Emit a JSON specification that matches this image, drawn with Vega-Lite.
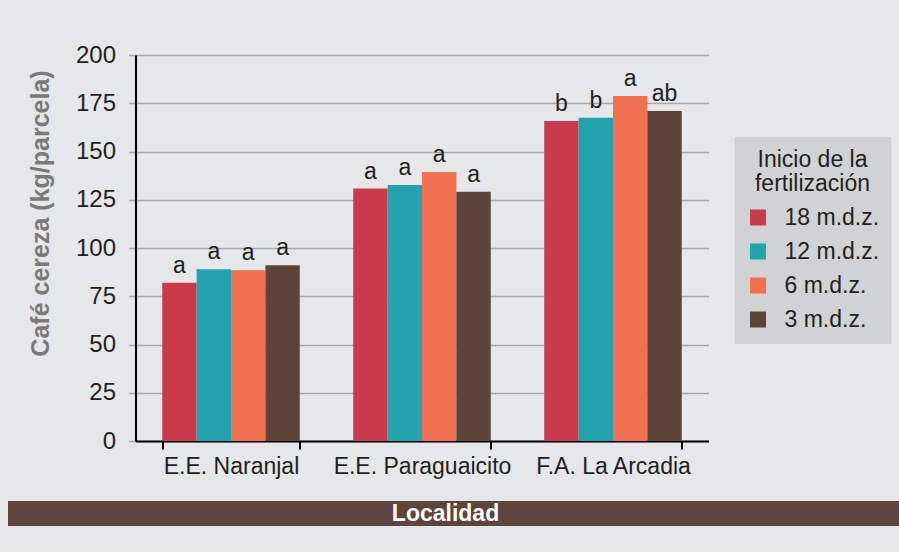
{
  "$schema": "https://vega.github.io/schema/vega-lite/v6.json",
  "background": "#e6e7e8",
  "padding": {"left": -5.5, "top": 43, "right": 0, "bottom": 26},
  "config": {"font": "Liberation Sans", "view": {"stroke": null}},
  "datasets": {
    "bars": [
      {"loc": "E.E. Naranjal", "trat": "18 m.d.z.", "val": 82, "sig": "a"},
      {"loc": "E.E. Naranjal", "trat": "12 m.d.z.", "val": 89, "sig": "a"},
      {"loc": "E.E. Naranjal", "trat": "6 m.d.z.", "val": 88.5, "sig": "a"},
      {"loc": "E.E. Naranjal", "trat": "3 m.d.z.", "val": 91, "sig": "a"},
      {"loc": "E.E. Paraguaicito", "trat": "18 m.d.z.", "val": 130.8, "sig": "a"},
      {"loc": "E.E. Paraguaicito", "trat": "12 m.d.z.", "val": 132.6, "sig": "a"},
      {"loc": "E.E. Paraguaicito", "trat": "6 m.d.z.", "val": 139.4, "sig": "a"},
      {"loc": "E.E. Paraguaicito", "trat": "3 m.d.z.", "val": 129.2, "sig": "a"},
      {"loc": "F.A. La Arcadia", "trat": "18 m.d.z.", "val": 165.8, "sig": "b"},
      {"loc": "F.A. La Arcadia", "trat": "12 m.d.z.", "val": 167.5, "sig": "b"},
      {"loc": "F.A. La Arcadia", "trat": "6 m.d.z.", "val": 178.8, "sig": "a"},
      {"loc": "F.A. La Arcadia", "trat": "3 m.d.z.", "val": 171, "sig": "ab"}
    ],
    "band": [{"t": "Localidad"}]
  },
  "spacing": 22,
  "resolve": {"scale": {"color": "independent"}, "legend": {"color": "independent"}},
  "vconcat": [
    {
      "width": 573,
      "height": 386,
      "data": {"name": "bars"},
      "encoding": {
        "x": {
          "field": "loc", "type": "nominal",
          "sort": ["E.E. Naranjal", "E.E. Paraguaicito", "F.A. La Arcadia"],
          "scale": {"paddingInner": 0.28, "paddingOuter": 0.14},
          "axis": {
            "title": null, "labelFontSize": 23, "labelColor": "#231f20", "labelPadding": 6,
            "labelAngle": 0, "tickBand": "extent", "tickSize": 8, "tickColor": "#000000",
            "tickWidth": 2, "domainColor": "#000000", "domainWidth": 2, "grid": false
          }
        },
        "xOffset": {
          "field": "trat", "type": "nominal",
          "sort": ["18 m.d.z.", "12 m.d.z.", "6 m.d.z.", "3 m.d.z."],
          "scale": {"paddingInner": 0, "paddingOuter": 0}
        },
        "y": {
          "field": "val", "type": "quantitative",
          "scale": {"domain": [0, 200]},
          "axis": {
            "values": [0, 25, 50, 75, 100, 125, 150, 175, 200],
            "title": "Café cereza (kg/parcela)",
            "titleFontSize": 25, "titleFontWeight": "bold", "titleColor": "#7a7a7a",
            "titlePadding": 22, "titleY": 158,
            "labelFontSize": 24, "labelColor": "#231f20", "labelPadding": 13,
            "tickSize": 7, "tickColor": "#a6a6a6", "tickWidth": 1.5,
            "gridColor": "#a6a6a6", "gridWidth": 1.5,
            "domainColor": "#000000", "domainWidth": 2
          }
        }
      },
      "layer": [
        {
          "mark": {"type": "bar"},
          "encoding": {
            "color": {
              "field": "trat", "type": "nominal",
              "scale": {
                "domain": ["18 m.d.z.", "12 m.d.z.", "6 m.d.z.", "3 m.d.z."],
                "range": ["#c93a4d", "#22a3ae", "#f1704f", "#5d443b"]
              },
              "legend": {
                "orient": "none", "legendX": 599, "legendY": 82,
                "title": ["Inicio de la", "fertilización"],
                "titleFontSize": 23, "titleFontWeight": "normal", "titleColor": "#231f20",
                "titleAnchor": "middle", "titleAlign": "center", "titleLineHeight": 24, "titlePadding": 10,
                "labelFontSize": 23, "labelColor": "#231f20", "labelOffset": 15,
                "labelExpr": "length(datum.value) < 9 ? '\u00a0\u00a0' + datum.value : datum.value",
                "symbolType": "square", "symbolSize": 256, "symbolStrokeWidth": 0, "symbolOpacity": 1,
                "rowPadding": 10, "padding": 12, "fillColor": "#d1d2d4"
              }
            }
          }
        },
        {
          "mark": {"type": "text", "baseline": "alphabetic", "dy": -10, "fontSize": 23, "color": "#231f20"},
          "encoding": {"text": {"field": "sig"}}
        }
      ]
    },
    {
      "width": 764,
      "height": 25,
      "data": {"name": "band"},
      "view": {"fill": "#5d453d", "stroke": null},
      "mark": {"type": "text", "color": "#ffffff", "fontWeight": "bold", "fontSize": 23, "baseline": "middle", "dx": -72},
      "encoding": {
        "text": {"field": "t"},
        "x": {"field": "t", "type": "nominal", "axis": null},
        "y": {
          "field": "t", "type": "nominal",
          "axis": {
            "orient": "left", "labels": false, "domain": false, "title": null, "grid": false,
            "ticks": true, "tickSize": 128, "tickWidth": 25, "tickColor": "#5d453d", "tickCap": "butt",
            "tickOffset": -0.5
          }
        }
      }
    }
  ]
}
